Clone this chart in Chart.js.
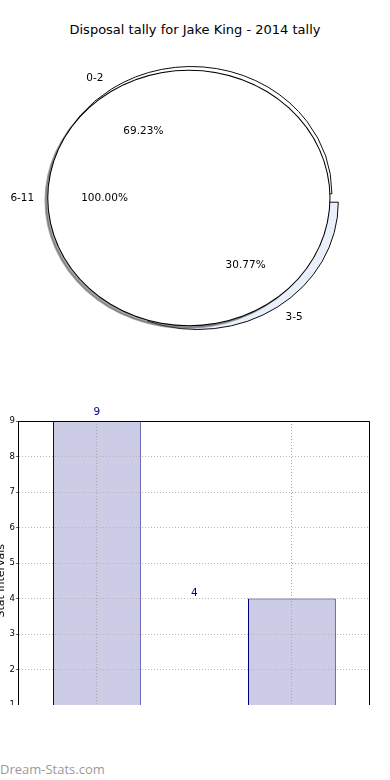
<!DOCTYPE html>
<html>
<head>
<meta charset="utf-8">
<script src="https://cdn.jsdelivr.net/npm/chart.js@4.4.1/dist/chart.umd.min.js"></script>
<style>
    html, body { margin: 0; padding: 0; background: #fff; }
    body { width: 390px; height: 780px; position: relative; overflow: hidden; font-family: 'DejaVu Sans', sans-serif; }
    #title { position: absolute; top: 22px; left: 0; width: 390px; text-align: center; font-size: 13px; line-height: 16px; color: #000; }
    #pieChart { position: absolute; left: 0; top: 0; }
    #barWrap { position: absolute; left: -5px; top: 400px; width: 380px; height: 305px; overflow: hidden; }
    #barChart { position: absolute; left: 0; top: 0; }
    #watermark { position: absolute; left: 0; top: 760px; font-family: 'Open Sans', sans-serif; font-size: 13px; line-height: 18px; color: #9a9a9a; }
</style>
</head>
<body>
<div id="title">Disposal tally for Jake King - 2014 tally</div>
<canvas id="pieChart" width="390" height="400"></canvas>
<div id="barWrap"><canvas id="barChart" width="380" height="360"></canvas></div>
<div id="watermark">Dream-Stats.com</div>
<script>
// pie wedges
const pieCategories = ['0-2', '3-5'];
const pieValues = [9, 4];
// the lone 6-11 wedge that the source draws over the others (shows as 100%)
const overlayCategories = ['6-11'];
const overlayValues = [1];

// bar chart
const barValues = [9, 4];
const yTickValues = [0, 1, 2, 3, 4, 5, 6, 7, 8, 9];

const PIE_R = 140.6;                 // horizontal radius, px
const PIE_SQUASH = 127.3 / 140.6;    // the pie comes out as an ellipse
const EXPLODE = 0.04;                // every wedge pulled out by 4% of the radius
const FONT = '"DejaVu Sans", sans-serif';

// Pie plugin: full-radius wedges on top of each other, pulled out along their
// middle angle, squashed into an ellipse, shadow under the 6-11 wedge,
// then labels + percentages like matplotlib
const ellipsePie = {
    id: 'ellipsePie',
    beforeDatasetsDraw(chart) {
        const a = chart.chartArea;
        const cx = (a.left + a.right) / 2, cy = (a.top + a.bottom) / 2;
        chart.data.datasets.forEach((ds, i) => {
            chart.getDatasetMeta(i).data.forEach(arc => {
                const mid = (arc.startAngle + arc.endAngle) / 2;
                arc.innerRadius = 0;
                arc.outerRadius = PIE_R;
                arc.x = cx + EXPLODE * PIE_R * Math.cos(mid);
                arc.y = cy + EXPLODE * PIE_R * Math.sin(mid);
            });
        });
        const ctx = chart.ctx;
        ctx.save();
        ctx.translate(cx, cy);
        ctx.scale(1, PIE_SQUASH);
        ctx.translate(-cx, -cy);
    },
    beforeDatasetDraw(chart, args) {
        if (!chart.data.datasets[args.index].shadow) return;
        const ctx = chart.ctx;
        ctx.save();
        ctx.shadowColor = 'rgba(77, 77, 77, 0.5)';
        ctx.shadowOffsetX = -0.02 * PIE_R;
        ctx.shadowOffsetY = 0.02 * PIE_R * PIE_SQUASH;
        ctx.shadowBlur = 0;
    },
    afterDatasetDraw(chart, args) {
        if (chart.data.datasets[args.index].shadow) chart.ctx.restore();
    },
    afterDatasetsDraw(chart) {
        const ctx = chart.ctx;
        ctx.restore();
        const a = chart.chartArea;
        const cy = (a.top + a.bottom) / 2;
        ctx.save();
        ctx.font = '10.5px ' + FONT;
        ctx.fillStyle = '#000';
        ctx.textBaseline = 'middle';
        chart.data.datasets.forEach((ds, i) => {
            if (!ds.categories) return;
            const total = ds.data.reduce((s, v) => s + v, 0);
            chart.getDatasetMeta(i).data.forEach((arc, j) => {
                const mid = (arc.startAngle + arc.endAngle) / 2;
                const cos = Math.cos(mid), sin = Math.sin(mid);
                // same squash as the wedges
                const at = f => [arc.x + f * PIE_R * cos, cy + (arc.y - cy + f * PIE_R * sin) * PIE_SQUASH];
                const [lx, ly] = at(1.1);
                ctx.textAlign = cos < 0 ? 'right' : 'left';
                ctx.fillText(ds.categories[j], lx, ly);
                const [px, py] = at(0.6);
                ctx.textAlign = 'center';
                ctx.fillText((ds.data[j] / total * 100).toFixed(2) + '%', px, py);
            });
        });
        ctx.restore();
    }
};

// wedges run clockwise from 3 o'clock here, so 3-5 comes first
const wedgeCats = pieCategories.slice().reverse();
const wedgeVals = pieValues.slice().reverse();

new Chart(document.getElementById('pieChart'), {
    type: 'pie',
    data: {
        labels: wedgeCats,
        datasets: [
            // plain white fill on top, hides the seam line of the full-circle wedge
            { data: overlayValues, backgroundColor: '#ffffff', borderWidth: 0 },
            // 6-11 outline + shadow
            {
                categories: overlayCategories,
                shadow: true,
                data: overlayValues,
                backgroundColor: '#ffffff',
                borderColor: '#000000',
                borderWidth: 2
            },
            {
                categories: wedgeCats,
                data: wedgeVals,
                backgroundColor: ['#e9effb', '#ffffff'],
                borderColor: '#000000',
                borderWidth: 1
            }
        ]
    },
    options: {
        responsive: false,
        animation: false,
        events: [],
        rotation: 90,
        layout: { padding: { left: 0, right: 1, top: 0, bottom: 4 } },
        plugins: { legend: { display: false }, tooltip: { enabled: false } }
    },
    plugins: [ellipsePie]
});

// Bar chart: dotted grid above the bars, top/right frame, value labels
const frame = {
    id: 'frame',
    afterDraw(chart) {
        const { ctx, chartArea: a } = chart;
        const top = Math.round(a.top) + 0.5, right = Math.round(a.right) - 0.5;
        ctx.save();
        ctx.strokeStyle = '#000';
        ctx.lineWidth = 1;
        ctx.beginPath();
        ctx.moveTo(a.left, top);
        ctx.lineTo(right, top);
        ctx.lineTo(right, a.bottom);
        ctx.stroke();
        ctx.restore();
    }
};

const barLabels = {
    id: 'barLabels',
    afterDraw(chart) {
        const { ctx, scales: { x, y } } = chart;
        ctx.save();
        ctx.font = '10.5px ' + FONT;
        ctx.fillStyle = '#00008b';
        ctx.textAlign = 'center';
        ctx.textBaseline = 'alphabetic';
        barValues.forEach((v, i) => {
            // source places each label at half the bar index, just above the value
            ctx.fillText(String(v), x.getPixelForValue(i * 0.5), y.getPixelForValue(v * 1.02));
        });
        ctx.restore();
    }
};

new Chart(document.getElementById('barChart'), {
    type: 'bar',
    data: {
        datasets: [{
            data: barValues.map((v, i) => ({ x: i, y: v })),
            backgroundColor: '#ccccE6',
            borderColor: '#000080',
            borderWidth: 1,
            inflateAmount: 0,
            barPercentage: 0.45,
            categoryPercentage: 1
        }]
    },
    options: {
        responsive: false,
        animation: false,
        events: [],
        layout: { padding: { left: 0, right: 5.125, top: 21, bottom: 19.5 } },
        plugins: { legend: { display: false }, tooltip: { enabled: false } },
        scales: {
            x: {
                type: 'linear',
                min: -0.4,
                max: 1.4,
                offset: false,
                afterBuildTicks: s => { s.ticks = barValues.map((v, i) => ({ value: i })); },
                afterFit: s => { s.height = 0; },
                ticks: { display: false },
                grid: { z: 1, offset: false, color: '#aaaaaa', lineWidth: 1, drawTicks: false },
                border: { display: false, dash: [1, 2] }
            },
            y: {
                min: 0,
                max: 9,
                afterBuildTicks: s => { s.ticks = yTickValues.map(v => ({ value: v })); },
                afterFit: s => { s.width = 23.875; },
                ticks: { color: '#000', padding: 1, font: { family: FONT, size: 8.5 } },
                grid: { z: 1, color: '#b5b5b5', lineWidth: 1, tickLength: 3, tickColor: '#666' },
                border: { display: true, z: 2, color: '#000', width: 1, dash: [1, 2] },
                title: {
                    display: true,
                    text: 'Stat Intervals',
                    color: '#000',
                    padding: 0,
                    font: { family: FONT, size: 11 }
                }
            }
        }
    },
    plugins: [frame, barLabels]
});
</script>
</body>
</html>
